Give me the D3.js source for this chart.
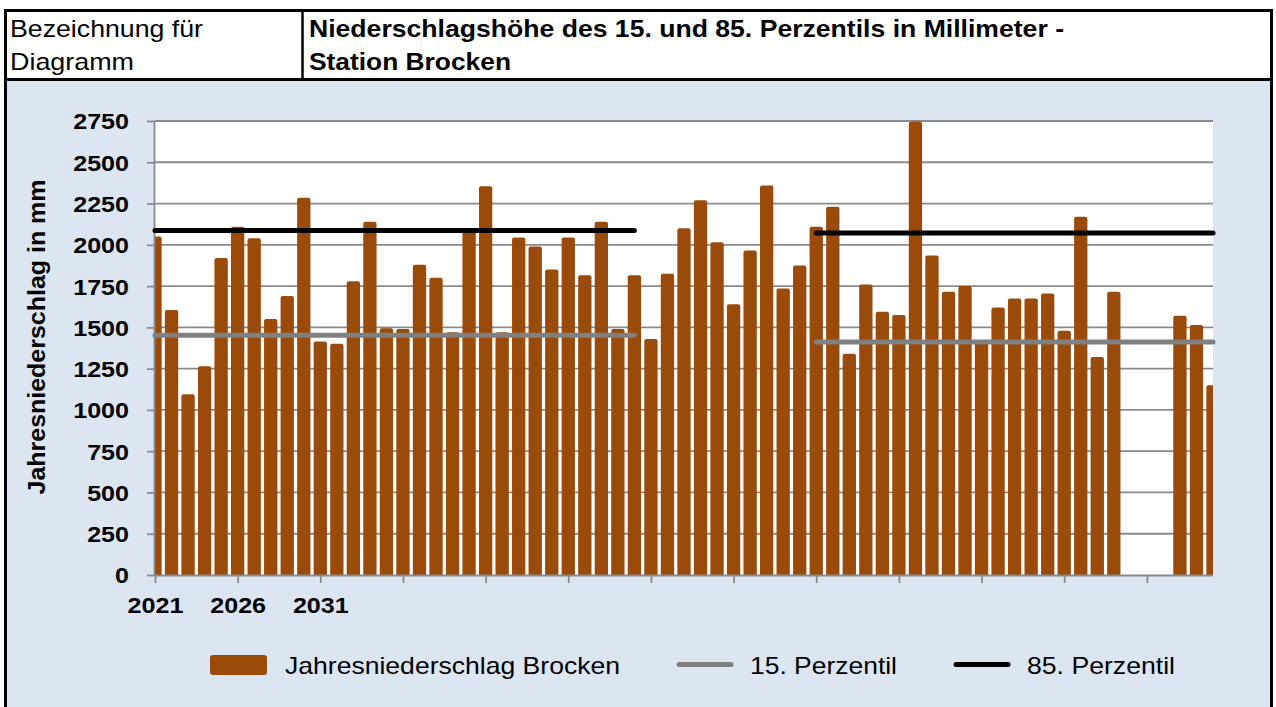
<!DOCTYPE html>
<html><head><meta charset="utf-8">
<script src="https://cdn.jsdelivr.net/npm/d3@7"></script>
<style>
body{margin:0;background:#fff;}
svg{display:block;font-family:"Liberation Sans",Arial,sans-serif;}
</style>
</head><body>
<svg id="c" width="1276" height="707"></svg>
<script>
// ---------- data ----------
const years = [2021,2022,2023,2024,2025,2026,2027,2028,2029,2030,
  2031,2032,2033,2034,2035,2036,2037,2038,2039,2040,
  2041,2042,2043,2044,2045,2046,2047,2048,2049,2050,
  2051,2052,2053,2054,2055,2056,2057,2058,2059,2060,
  2061,2062,2063,2064,2065,2066,2067,2068,2069,2070,
  2071,2072,2073,2074,2075,2076,2077,2078,2079,2080,
  2081,2082,2083,2084,2085];
const precipitation = [2050,1605,1095,1265,1920,2110,2040,1550,1690,2285,
  1415,1400,1780,2140,1495,1490,1880,1800,1470,2080,
  2355,1470,2045,1990,1850,2045,1815,2140,1490,1815,
  1430,1825,2100,2270,2015,1640,1965,2360,1735,1875,
  2110,2230,1340,1760,1595,1575,2745,1935,1715,1750,
  1410,1620,1675,1675,1705,1480,2170,1320,1715,null,
  null,null,1570,1515,1150];
const periodStart = [2021, 2061];
const periodEnd   = [2050, 2085];
const perc15 = [1452, 1411];
const perc85 = [2087, 2071];
const yTicks = [0,250,500,750,1000,1250,1500,1750,2000,2250,2500,2750];
const xTicks = [2021,2026,2031,2036,2041,2046,2051,2056,2061,2066,2071,2076,2081];
const xLabels = ["2021","2026","2031","","","","","","","","","",""];
const headerLeft = ["Bezeichnung für","Diagramm"];
const headerTitle = ["Niederschlagshöhe des 15. und 85. Perzentils in Millimeter -","Station Brocken"];
const yTitle = "Jahresniederschlag in mm";
const legendNames = ["Jahresniederschlag Brocken","15. Perzentil","85. Perzentil"];

// ---------- styles ----------
const BAR = "#9A4A09", GRID = "#8A8A8A", P15 = "#808080", P85 = "#000000", BG = "#DCE6F2";

const svg = d3.select("#c");
function fitText(sel, target){
  sel.attr("textLength", target).attr("lengthAdjust","spacingAndGlyphs");
}
function stretch(sel, f){
  sel.each(function(){
    const w = this.getComputedTextLength();
    if (w > 0) d3.select(this).attr("textLength", w*f).attr("lengthAdjust","spacingAndGlyphs");
  });
}

// backgrounds
svg.append("rect").attr("width",1276).attr("height",707).attr("fill","#fff");
svg.append("rect").attr("x",5).attr("y",80).attr("width",1267).attr("height",630).attr("fill",BG);

// frame
const frame = svg.append("g").attr("stroke","#000").attr("stroke-width",3).attr("fill","none");
frame.append("line").attr("x1",4).attr("x2",1273).attr("y1",10.5).attr("y2",10.5);
frame.append("line").attr("x1",4).attr("x2",1273).attr("y1",79.5).attr("y2",79.5);
frame.append("line").attr("x1",5.5).attr("x2",5.5).attr("y1",9).attr("y2",707);
frame.append("line").attr("x1",1271.5).attr("x2",1271.5).attr("y1",9).attr("y2",707);
frame.append("line").attr("x1",302.5).attr("x2",302.5).attr("y1",10).attr("y2",80).attr("stroke-width",2.5);

// header text
const hl = svg.append("g").attr("font-size",24).attr("fill","#000");
hl.selectAll("text").data(headerLeft).join("text")
  .attr("x",10).attr("y",(d,i)=>i?70:37).text(d=>d)
  .each(function(d,i){ fitText(d3.select(this), i?124:193); });
const ht = svg.append("g").attr("font-size",24).attr("font-weight","bold").attr("fill","#000");
ht.selectAll("text").data(headerTitle).join("text")
  .attr("x",309).attr("y",(d,i)=>i?70:37).text(d=>d)
  .each(function(d,i){ fitText(d3.select(this), i?202:755); });

// scales
const L=155, R=1213, T=121, B=575;
const x = d3.scaleLinear().domain([2021,2085]).range([L,R]);
const y = d3.scaleLinear().domain([0,2750]).range([B,T]);

svg.append("rect").attr("x",L).attr("y",T).attr("width",R-L).attr("height",B-T).attr("fill","#fff");

// gridlines
svg.append("g").selectAll("line").data(yTicks.filter(v=>v>0)).join("line")
  .attr("x1",L).attr("x2",R).attr("y1",d=>y(d)).attr("y2",d=>y(d))
  .attr("stroke",GRID).attr("stroke-width",1.8);

// bars
svg.append("clipPath").attr("id","plotclip").append("rect")
  .attr("x",L).attr("y",T-10).attr("width",R-L).attr("height",B-T+10);
const step = x(2022)-x(2021);
const bw = step*0.805;
const barData = years.map((yr,i)=>({yr, v:precipitation[i]})).filter(d=>d.v!=null);
svg.append("g").attr("clip-path","url(#plotclip)")
  .selectAll("rect").data(barData).join("rect")
  .attr("x",d=>x(d.yr)-bw/2).attr("width",bw)
  .attr("y",d=>y(d.v)).attr("height",d=>y(0)-y(d.v)+1)
  .attr("rx",2).attr("fill",BAR);

// axes
const yAxis = d3.axisLeft(y).tickValues(yTicks).tickSize(8).tickPadding(18).tickFormat(d3.format("d"));
const gy = svg.append("g").attr("transform",`translate(${L},0)`).call(yAxis);
gy.select(".domain").attr("stroke",GRID).attr("stroke-width",1.8).attr("d",`M-0.5,${T}V${B}`);
gy.selectAll(".tick line").attr("stroke",GRID).attr("stroke-width",1.8);
gy.selectAll(".tick text").attr("font-size",22).attr("font-weight","bold").attr("fill","#000")
  .attr("font-family","Liberation Sans, Arial, sans-serif").attr("dy","0.36em");
stretch(gy.selectAll(".tick text"),1.14);

const xAxis = d3.axisBottom(x).tickValues(xTicks).tickSize(8).tickPadding(14)
  .tickFormat((d,i)=>xLabels[i]);
const gx = svg.append("g").attr("transform",`translate(0,${B})`).call(xAxis);
gx.select(".domain").attr("stroke",GRID).attr("stroke-width",1.8).attr("d",`M${L},0.5H${R}`);
gx.selectAll(".tick line").attr("stroke",GRID).attr("stroke-width",1.8);
gx.selectAll(".tick text").attr("font-size",22).attr("font-weight","bold").attr("fill","#000")
  .attr("font-family","Liberation Sans, Arial, sans-serif");
stretch(gx.selectAll(".tick text"),1.14);

// percentile lines
const line = d3.line().x(d=>x(d[0])).y(d=>y(d[1]));
[[perc15,P15],[perc85,P85]].forEach(([vals,col])=>{
  svg.append("g").selectAll("path").data(periodStart.map((s,i)=>[[s,vals[i]],[periodEnd[i],vals[i]]]))
    .join("path").attr("d",line).attr("fill","none").attr("stroke",col)
    .attr("stroke-width",5).attr("stroke-linecap","round");
});

// y title
svg.append("text").attr("transform","translate(45,337) rotate(-90)")
  .attr("text-anchor","middle").attr("font-size",23).attr("font-weight","bold").attr("fill","#000")
  .text(yTitle).call(s=>fitText(s,315));

// legend
const lg = svg.append("g");
lg.append("rect").attr("x",210).attr("y",655).attr("width",57).attr("height",20).attr("rx",3).attr("fill",BAR);
lg.append("line").attr("x1",679).attr("x2",731).attr("y1",664.5).attr("y2",664.5)
  .attr("stroke",P15).attr("stroke-width",5).attr("stroke-linecap","round");
lg.append("line").attr("x1",956).attr("x2",1008).attr("y1",664.5).attr("y2",664.5)
  .attr("stroke",P85).attr("stroke-width",5).attr("stroke-linecap","round");
const legX = [285,750,1027], legW = [335,147,148];
lg.selectAll("text").data(legendNames).join("text")
  .attr("x",(d,i)=>legX[i]).attr("y",674).attr("font-size",24).attr("fill","#000").text(d=>d)
  .each(function(d,i){ fitText(d3.select(this), legW[i]); });
</script>
</body></html>
